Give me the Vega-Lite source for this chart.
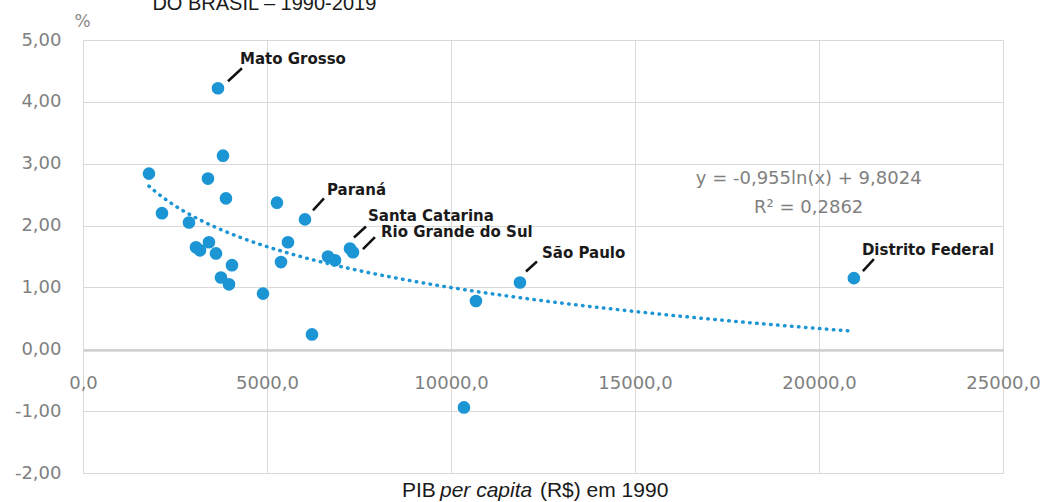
{
  "$schema": "https://vega.github.io/schema/vega-lite/v6.json",
  "width": 920,
  "height": 433,
  "autosize": "none",
  "padding": {"left": 83, "top": 40, "right": 42, "bottom": 29},
  "background": "white",
  "config": {
    "locale": {"number": {"decimal": ",", "thousands": ".", "grouping": [3], "currency": ["R$", ""], "minus": "-"}},
    "view": {"stroke": null}
  },
  "title": {"text": "DO BRASIL – 1990-2019", "anchor": "start", "dx": 138, "offset": -18, "font": "Liberation Sans", "fontSize": 20, "fontWeight": "normal", "color": "#1a1a1a", "baseline": "alphabetic"},
  "datasets": {
    "estados": [
      {"estado": "Mato Grosso", "pib": 3668, "pct": 4.22},
      {"estado": "", "pib": 1793, "pct": 2.84},
      {"estado": "", "pib": 3804, "pct": 3.13},
      {"estado": "", "pib": 3396, "pct": 2.76},
      {"estado": "", "pib": 3885, "pct": 2.44},
      {"estado": "", "pib": 2146, "pct": 2.20},
      {"estado": "", "pib": 2880, "pct": 2.05},
      {"estado": "", "pib": 5271, "pct": 2.37},
      {"estado": "Paraná", "pib": 6032, "pct": 2.10},
      {"estado": "", "pib": 5570, "pct": 1.73},
      {"estado": "", "pib": 3070, "pct": 1.65},
      {"estado": "", "pib": 3179, "pct": 1.60},
      {"estado": "", "pib": 3423, "pct": 1.73},
      {"estado": "", "pib": 3614, "pct": 1.55},
      {"estado": "", "pib": 4048, "pct": 1.36},
      {"estado": "", "pib": 3749, "pct": 1.16},
      {"estado": "", "pib": 3967, "pct": 1.05},
      {"estado": "", "pib": 4891, "pct": 0.90},
      {"estado": "", "pib": 5380, "pct": 1.41},
      {"estado": "", "pib": 6222, "pct": 0.24},
      {"estado": "", "pib": 6657, "pct": 1.50},
      {"estado": "", "pib": 6847, "pct": 1.44},
      {"estado": "Santa Catarina", "pib": 7255, "pct": 1.63},
      {"estado": "Rio Grande do Sul", "pib": 7336, "pct": 1.57},
      {"estado": "", "pib": 10678, "pct": 0.78},
      {"estado": "São Paulo", "pib": 11874, "pct": 1.08},
      {"estado": "", "pib": 10352, "pct": -0.94},
      {"estado": "Distrito Federal", "pib": 20948, "pct": 1.15}
    ]
  },
  "data": {"name": "estados"},
  "encoding": {
    "x": {
      "field": "pib", "type": "quantitative",
      "scale": {"domain": [0, 25000], "nice": false, "zero": false},
      "axis": {
        "orient": "bottom", "offset": -123,
        "values": [0, 5000, 10000, 15000, 20000, 25000], "format": ".1f",
        "grid": true, "gridColor": "#d9d9d9", "gridWidth": 1,
        "domain": true, "domainColor": "#d0d0d0", "domainWidth": 2.5,
        "ticks": false, "labelPadding": 24, "labelFlush": false,
        "labelFont": "DejaVu Sans", "labelFontSize": 18, "labelColor": "#7f7f7f",
        "title": null
      }
    },
    "y": {
      "field": "pct", "type": "quantitative",
      "scale": {"domain": [-2, 5], "nice": false, "zero": false},
      "axis": {
        "orient": "left",
        "values": [-2, -1, 0, 1, 2, 3, 4, 5], "format": ".2f",
        "grid": true, "gridColor": "#d9d9d9", "gridWidth": 1,
        "domain": false, "ticks": false, "labelPadding": 22,
        "labelFont": "DejaVu Sans", "labelFontSize": 18, "labelColor": "#7f7f7f",
        "title": "%", "titleAngle": 0, "titleX": -1, "titleY": -19, "titleAlign": "center", "titleBaseline": "middle",
        "titleFont": "DejaVu Sans", "titleFontSize": 17, "titleFontWeight": "normal", "titleColor": "#8a8a8a"
      }
    }
  },
  "layer": [
    {
      "transform": [{"regression": "pct", "on": "pib", "method": "log", "extent": [1793, 20948]}],
      "mark": {"type": "line", "color": "#1b95d3", "strokeWidth": 3.5, "strokeDash": [0.5, 6.5], "strokeCap": "round"}
    },
    {
      "mark": {"type": "circle", "size": 160, "opacity": 1, "color": "#1b95d3"}
    },
    {
      "transform": [{"filter": "datum.estado == 'Mato Grosso' || datum.estado == 'Paraná' || datum.estado == 'São Paulo'"}],
      "mark": {"type": "text", "align": "left", "baseline": "alphabetic", "dx": 22, "dy": -24, "font": "DejaVu Sans", "fontSize": 15, "fontWeight": "bold", "color": "#1a1a1a"},
      "encoding": {"text": {"field": "estado"}}
    },
    {
      "transform": [{"filter": "datum.estado == 'Santa Catarina'"}],
      "mark": {"type": "text", "align": "left", "baseline": "alphabetic", "dx": 18, "dy": -27, "font": "DejaVu Sans", "fontSize": 15, "fontWeight": "bold", "color": "#1a1a1a"},
      "encoding": {"text": {"field": "estado"}}
    },
    {
      "transform": [{"filter": "datum.estado == 'Rio Grande do Sul'"}],
      "mark": {"type": "text", "align": "left", "baseline": "alphabetic", "dx": 28, "dy": -15, "font": "DejaVu Sans", "fontSize": 15, "fontWeight": "bold", "color": "#1a1a1a"},
      "encoding": {"text": {"field": "estado"}}
    },
    {
      "transform": [{"filter": "datum.estado == 'Distrito Federal'"}],
      "mark": {"type": "text", "align": "left", "baseline": "alphabetic", "dx": 8, "dy": -23, "font": "DejaVu Sans", "fontSize": 15, "fontWeight": "bold", "color": "#1a1a1a"},
      "encoding": {"text": {"field": "estado"}}
    },
    {
      "transform": [{"filter": "datum.estado != ''"}],
      "mark": {"type": "point", "filled": false, "stroke": "#111111", "strokeWidth": 2.5, "size": 400, "opacity": 1},
      "encoding": {
        "shape": {
          "field": "estado", "type": "nominal", "legend": null,
          "scale": {
            "domain": ["Mato Grosso", "Paraná", "Santa Catarina", "Rio Grande do Sul", "São Paulo", "Distrito Federal"],
            "range": ["M1,-0.7L2.4,-2", "M0.8,-0.9L1.9,-2.1", "M0.4,-1.1L1.6,-2.2", "M1,-0.3L2.2,-1.5", "M0.6,-1.1L1.7,-2.1", "M0.9,-0.7L2,-1.9"]
          }
        }
      }
    },
    {
      "transform": [{"filter": "datum.estado == 'Distrito Federal'"}],
      "mark": {"type": "text", "text": ["y = -0,955ln(x) + 9,8024", "R² = 0,2862"], "lineHeight": 29, "align": "center", "baseline": "alphabetic", "font": "DejaVu Sans", "fontSize": 18, "color": "#7f7f7f"},
      "encoding": {
        "x": {"datum": 19720, "type": "quantitative"},
        "y": {"datum": 2.67, "type": "quantitative"}
      }
    },
    {
      "transform": [{"filter": "datum.estado == 'Distrito Federal'"}],
      "mark": {"type": "text", "text": "PIB", "align": "left", "baseline": "alphabetic", "font": "Liberation Sans", "fontSize": 21, "color": "#1a1a1a", "clip": false},
      "encoding": {
        "x": {"datum": 8668, "type": "quantitative"},
        "y": {"datum": -2.39, "type": "quantitative"}
      }
    },
    {
      "transform": [{"filter": "datum.estado == 'Distrito Federal'"}],
      "mark": {"type": "text", "text": "per capita", "align": "left", "baseline": "alphabetic", "font": "Liberation Sans", "fontSize": 21, "fontStyle": "italic", "color": "#1a1a1a", "clip": false},
      "encoding": {
        "x": {"datum": 9700, "type": "quantitative"},
        "y": {"datum": -2.39, "type": "quantitative"}
      }
    },
    {
      "transform": [{"filter": "datum.estado == 'Distrito Federal'"}],
      "mark": {"type": "text", "text": "(R$) em 1990", "align": "left", "baseline": "alphabetic", "font": "Liberation Sans", "fontSize": 21, "color": "#1a1a1a", "clip": false},
      "encoding": {
        "x": {"datum": 12417, "type": "quantitative"},
        "y": {"datum": -2.39, "type": "quantitative"}
      }
    }
  ]
}
